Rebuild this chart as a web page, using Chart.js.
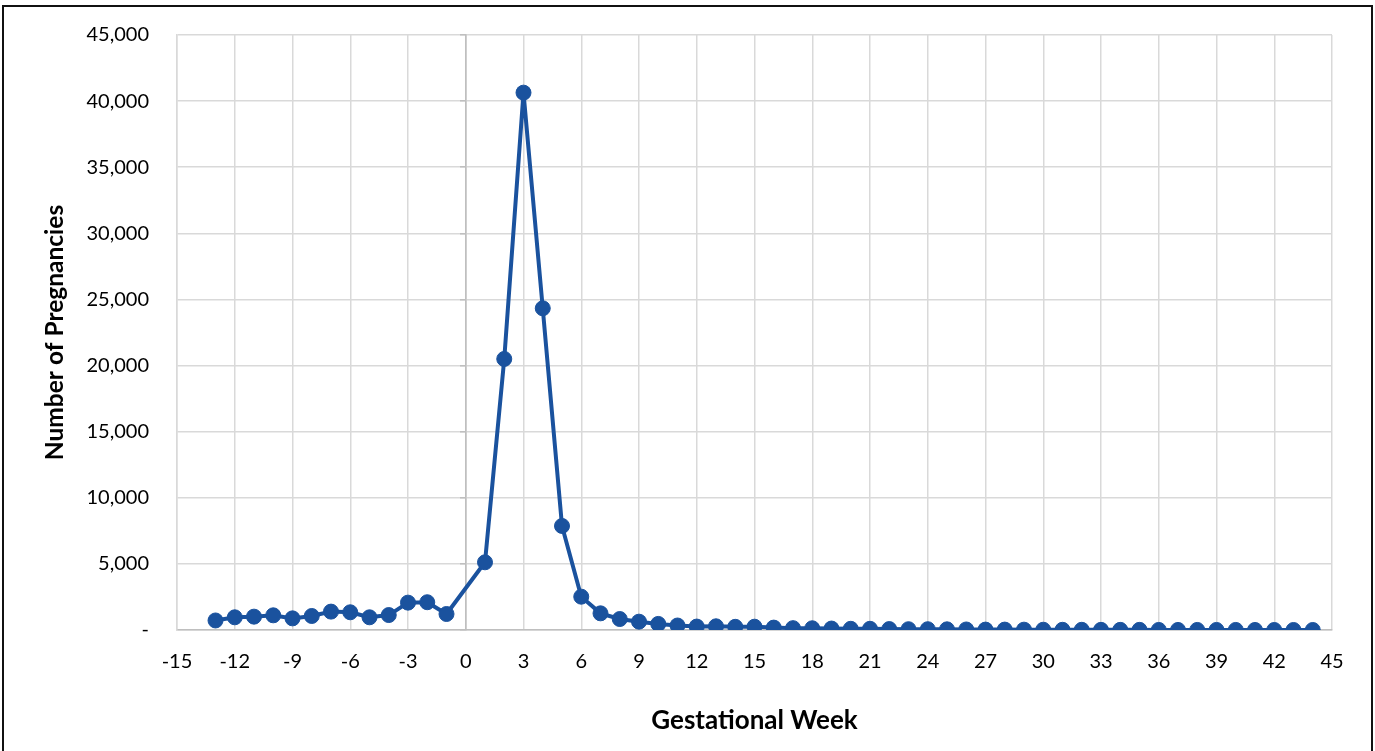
<!DOCTYPE html>
<html>
<head>
<meta charset="utf-8">
<script src="https://cdn.jsdelivr.net/npm/chart.js@4"></script>
<style>
  html, body { margin: 0; padding: 0; background: #fff; }
  #wrap { position: relative; width: 1375px; height: 751px; overflow: hidden; }
  #chart { position: absolute; left: 0; top: 0; }
  #frame {
    position: absolute; left: 2px; top: 5px; width: 1371px; height: 800px;
    box-sizing: border-box; border: 2px solid #111; pointer-events: none;
  }
</style>
</head>
<body>
<div id="wrap">
  <canvas id="chart" width="1375" height="751"></canvas>
  <div id="frame"></div>
</div>
<script>
// Gestational week (no week 0 in the data)
const weeks = [-13, -12, -11, -10, -9, -8, -7, -6, -5, -4, -3, -2, -1,
  1, 2, 3, 4, 5, 6, 7, 8, 9, 10, 11, 12, 13, 14, 15, 16, 17, 18, 19, 20,
  21, 22, 23, 24, 25, 26, 27, 28, 29, 30, 31, 32, 33, 34, 35, 36, 37, 38,
  39, 40, 41, 42, 43, 44];

// Number of pregnancies per week
const pregnancies = [720, 960, 1010, 1110, 880, 1060, 1390, 1340, 960, 1130, 2070, 2100, 1210,
  5120, 20500, 40640, 24330, 7870, 2520, 1260, 830, 630, 460, 340, 260, 280, 240, 250, 180, 140, 130, 110, 90,
  90, 70, 60, 60, 50, 40, 30, 30, 25, 20, 15, 15, 10, 10, 10, 5, 5, 5,
  5, 5, 3, 2, 1, 1];

const xMin = -15, xMax = 45, xStep = 3;
const yMin = 0, yMax = 45000, yStep = 5000;

const FONT = 'Lato, "Open Sans", sans-serif';
const lineColor = '#1a529e';

const points = weeks.map((w, i) => ({ x: w, y: pregnancies[i] }));

// keep the plot area where the layout padding puts it
const noEdgePadding = (s) => { s.paddingTop = 0; s.paddingBottom = 0; };

const ctx = document.getElementById('chart').getContext('2d');
new Chart(ctx, {
  type: 'line',
  data: {
    datasets: [{
      data: points,
      borderColor: lineColor,
      backgroundColor: lineColor,
      borderWidth: 4,
      pointRadius: 7.5,
      pointBorderWidth: 1,
      pointBorderColor: lineColor,
      pointBackgroundColor: lineColor,
      tension: 0
    }]
  },
  options: {
    responsive: false,
    animation: false,
    layout: { padding: { top: 35, right: 43, left: 0, bottom: 0 } },
    plugins: { legend: { display: false }, tooltip: { enabled: false } },
    scales: {
      x: {
        type: 'linear',
        min: xMin, max: xMax,
        afterFit: (s) => { s.height = 121; },
        ticks: {
          stepSize: xStep,
          color: '#000',
          font: { family: FONT, size: 20 },
          padding: 20,
          maxRotation: 0
        },
        grid: {
          color: (c) => (c.tick && c.tick.value === 0) ? '#bfbfbf' : '#d9d9d9',
          lineWidth: 1.5,
          drawTicks: false
        },
        border: { color: '#bfbfbf', width: 1.5 },
        title: {
          display: true,
          text: 'Gestational Week',
          color: '#000',
          font: { family: FONT, size: 26, weight: 'bold' },
          padding: { top: 0, bottom: 15 }
        }
      },
      y: {
        min: yMin, max: yMax,
        afterFit: (s) => { s.width = 177; noEdgePadding(s); },
        ticks: {
          stepSize: yStep,
          color: '#000',
          font: { family: FONT, size: 20 },
          padding: 28,
          callback: (v) => v === 0 ? '-' : v.toLocaleString('en-US')
        },
        grid: { color: '#d9d9d9', lineWidth: 1.5, drawTicks: false },
        border: { color: '#d9d9d9', width: 1.5 },
        title: {
          display: true,
          text: 'Number of Pregnancies',
          color: '#000',
          font: { family: FONT, size: 24.5, weight: 'bold' },
          padding: { top: 40, bottom: 0 }
        }
      },
      // vertical axis line drawn at week 0, as in the original
      y2: {
        position: { x: 0 },
        min: yMin, max: yMax,
        afterFit: noEdgePadding,
        ticks: { stepSize: yStep, display: false },
        grid: { drawOnChartArea: false, drawTicks: true, tickLength: 5, color: '#bfbfbf', lineWidth: 1.5 },
        border: { color: '#bfbfbf', width: 1.5 }
      }
    }
  }
});
</script>
</body>
</html>
